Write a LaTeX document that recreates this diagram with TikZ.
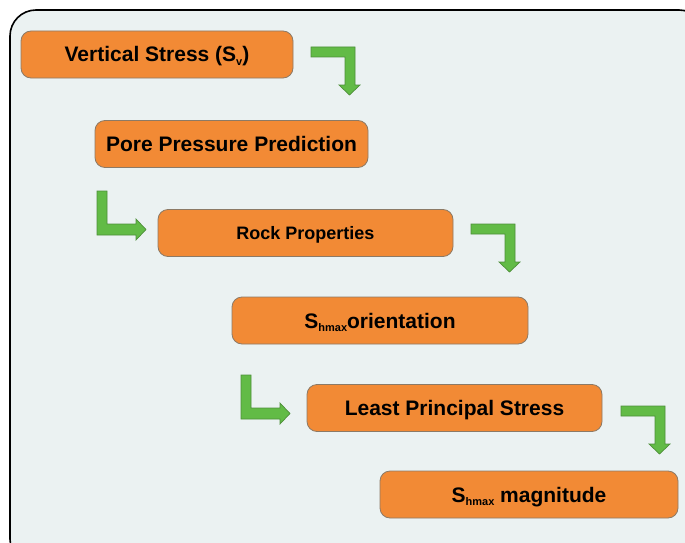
\documentclass[tikz,border=0pt]{standalone}
\usepackage{fontspec}
\setmainfont{Liberation Sans}
\definecolor{myOrange}{HTML}{F28A35}
\definecolor{myEdge}{HTML}{8C7A66}
\definecolor{myGreen}{HTML}{62BB46}
\definecolor{myDarkGreen}{HTML}{4E8F3A}
\definecolor{myPanel}{HTML}{EBF2F2}
\newcommand{\lowsub}[1]{\raisebox{-3.5pt}{\fontsize{11}{12}\selectfont #1}}

\begin{document}
\begin{tikzpicture}[x=1pt, y=-1pt]
  \tikzstyle{O}=[rectangle, rounded corners=10pt, fill=myOrange, draw=myEdge, line width=0.8pt, minimum height=47pt, inner sep=2pt, text height=15pt, text depth=0pt, font=\bfseries\fontsize{21}{24}\selectfont]
  \tikzstyle{G}=[fill=myGreen, draw=myDarkGreen, line width=0.7pt, line join=miter]

  \useasboundingbox (0,0) rectangle (685,543);
  \clip (0,0) rectangle (685,543);
  \draw[fill=myPanel, line width=1.6pt, rounded corners=26pt] (10,10) rectangle (705,565);

  \node[O, minimum width=272pt] at (157,54.5) (vs) {Vertical Stress (S\lowsub{v})};
  \node[O, minimum width=273pt] at (231.5,144) (ppp) {Pore Pressure Prediction};
  \node[O, minimum width=295pt, text height=13pt, font=\bfseries\fontsize{18}{21}\selectfont] at (305.5,233) (rock) {Rock Properties};
  \node[O, minimum width=296pt] at (380,320.5) (orient) {S\lowsub{hmax}orientation};
  \node[O, minimum width=295pt] at (454.5,408) (lps) {Least Principal Stress};
  \node[O, minimum width=298pt] at (529,494.5) (mag) {S\lowsub{hmax} magnitude};

  % bent arrows, turning down
  \foreach \x/\y in {311/47, 471/224, 621/406}
    \draw[G, shift={(\x,\y)}] (0,0) -- (44,0) -- (44,38) -- (49,38) -- (38.5,48)
      -- (28,38) -- (34,38) -- (34,10) -- (0,10) -- cycle;

  % bent arrows, turning right
  \foreach \x/\y in {97/191, 241/375}
    \draw[G, shift={(\x,\y)}] (0,0) -- (10,0) -- (10,33) -- (39,33) -- (39,28)
      -- (49,38.5) -- (39,49) -- (39,44) -- (0,44) -- cycle;

\end{tikzpicture}
\end{document}
